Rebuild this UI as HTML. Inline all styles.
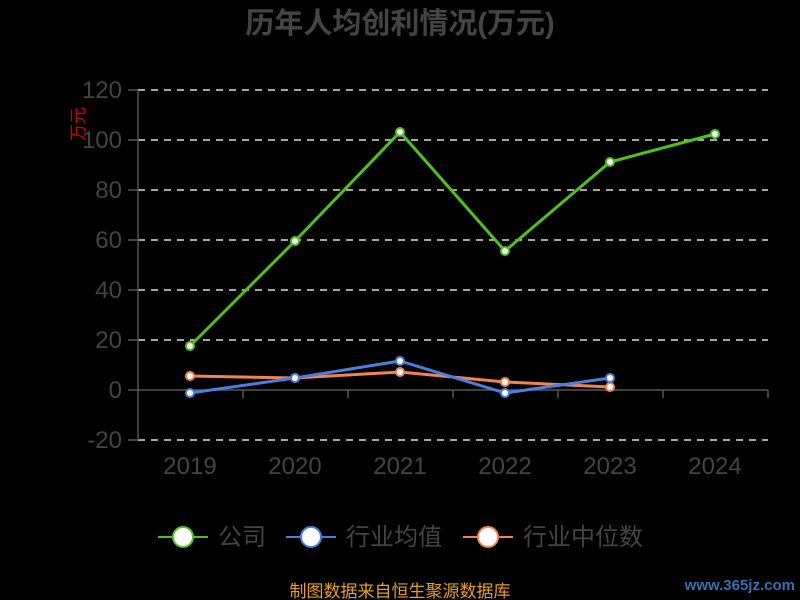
<!DOCTYPE html>
<html><head><meta charset="utf-8"><style>
html,body{margin:0;padding:0;background:#000;}
svg{display:block}
text{font-family:"Liberation Sans","Noto Sans CJK SC",sans-serif;}
</style></head><body>
<svg width="800" height="600" viewBox="0 0 800 600" xmlns="http://www.w3.org/2000/svg">
<rect width="800" height="600" fill="#000"/>
<text x="400" y="33" text-anchor="middle" font-size="29" font-weight="bold" fill="#444">历年人均创利情况(万元)</text>
<g stroke="#ddd" stroke-width="1.5" stroke-dasharray="7,6">
<line x1="138" y1="90" x2="768" y2="90"/><line x1="138" y1="140" x2="768" y2="140"/>
<line x1="138" y1="190" x2="768" y2="190"/><line x1="138" y1="240" x2="768" y2="240"/>
<line x1="138" y1="290" x2="768" y2="290"/><line x1="138" y1="340" x2="768" y2="340"/>
<line x1="138" y1="440" x2="768" y2="440"/>
</g>
<g stroke="#555" stroke-width="1.5">
<line x1="138" y1="90" x2="138" y2="440"/>
<line x1="128" y1="90" x2="138" y2="90"/><line x1="128" y1="140" x2="138" y2="140"/><line x1="128" y1="190" x2="138" y2="190"/><line x1="128" y1="240" x2="138" y2="240"/><line x1="128" y1="290" x2="138" y2="290"/><line x1="128" y1="340" x2="138" y2="340"/><line x1="128" y1="390" x2="138" y2="390"/><line x1="128" y1="440" x2="138" y2="440"/>
<line x1="138" y1="390" x2="768" y2="390"/>
<line x1="243" y1="390" x2="243" y2="398"/><line x1="348" y1="390" x2="348" y2="398"/><line x1="453" y1="390" x2="453" y2="398"/><line x1="558" y1="390" x2="558" y2="398"/><line x1="663" y1="390" x2="663" y2="398"/><line x1="768" y1="390" x2="768" y2="398"/>
</g>
<g font-size="24" fill="#444" text-anchor="end">
<text x="122" y="98">120</text><text x="122" y="148">100</text><text x="122" y="198">80</text><text x="122" y="248">60</text><text x="122" y="298">40</text><text x="122" y="348">20</text><text x="122" y="398">0</text><text x="122" y="448">-20</text>
</g>
<text transform="translate(84,124) rotate(-90)" font-size="17" fill="#c00" text-anchor="middle">万元</text>
<g font-size="24" fill="#444" text-anchor="middle">
<text x="190" y="474">2019</text><text x="295" y="474">2020</text><text x="400" y="474">2021</text><text x="505" y="474">2022</text><text x="610" y="474">2023</text><text x="715" y="474">2024</text>
</g>
<polyline points="190,376 295,378 400,372 505,382 610,387" fill="none" stroke="#f4844d" stroke-width="3"/>
<polyline points="190,393 295,378 400,361 505,393 610,378" fill="none" stroke="#4a7fe0" stroke-width="3"/>
<polyline points="190,346 295,241 400,132 505,251 610,162 715,134" fill="none" stroke="#4fc11d" stroke-width="3"/>
<g fill="#fff" stroke-width="2">
<g stroke="#f4844d"><circle cx="190" cy="376" r="4"/><circle cx="295" cy="378" r="4"/><circle cx="400" cy="372" r="4"/><circle cx="505" cy="382" r="4"/><circle cx="610" cy="387" r="4"/></g>
<g stroke="#4a7fe0"><circle cx="190" cy="393" r="4"/><circle cx="295" cy="378" r="4"/><circle cx="400" cy="361" r="4"/><circle cx="505" cy="393" r="4"/><circle cx="610" cy="378" r="4"/></g>
<g stroke="#4fc11d"><circle cx="190" cy="346" r="4"/><circle cx="295" cy="241" r="4"/><circle cx="400" cy="132" r="4"/><circle cx="505" cy="251" r="4"/><circle cx="610" cy="162" r="4"/><circle cx="715" cy="134" r="4"/></g>
</g>
<g stroke-width="2" fill="#fff">
<line x1="158" y1="537" x2="208" y2="537" stroke="#4fc11d"/><circle cx="183" cy="537" r="10" stroke="#4fc11d"/>
<line x1="286" y1="537" x2="336" y2="537" stroke="#4a7fe0"/><circle cx="311" cy="537" r="10" stroke="#4a7fe0"/>
<line x1="463" y1="537" x2="513" y2="537" stroke="#f4844d"/><circle cx="488" cy="537" r="10" stroke="#f4844d"/>
</g>
<g font-size="24" fill="#444">
<text x="218" y="545">公司</text><text x="346" y="545">行业均值</text><text x="523" y="545">行业中位数</text>
</g>
<text x="400" y="597" text-anchor="middle" font-size="17" fill="#e8a020">制图数据来自恒生聚源数据库</text>
<text x="795" y="590" text-anchor="end" font-size="15" font-weight="bold" fill="#3a6fb0">www.365jz.com</text>
</svg>
</body></html>
